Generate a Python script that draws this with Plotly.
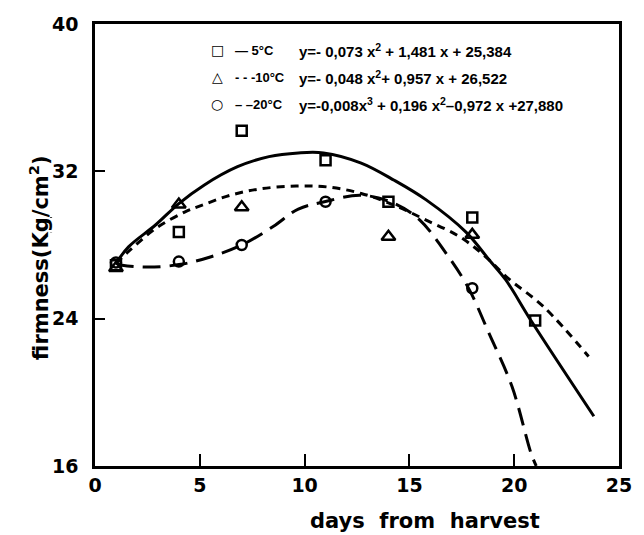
import plotly.graph_objects as go

days = [1, 4, 7, 11, 14, 18, 21]
firm_5c = [26.9, 28.7, 34.2, 32.6, 30.35, 29.5, 23.9]

days_10c = [1, 4, 7, 14, 18]
firm_10c = [26.75, 30.2, 30.05, 28.45, 28.55]

days_20c = [1, 4, 7, 11, 18]
firm_20c = [27.05, 27.1, 28.0, 30.35, 25.65]

# ---- fitted curves as drawn ----
fit5_x = [1, 1.6, 2.9, 4, 5.2, 6.8, 8.3, 9.7, 10.9, 12.7, 14.3, 15.8, 17.7, 18.8, 19.6, 20.8, 23.8]
fit5_y = [27.0, 27.9, 29.1, 30.25, 31.25, 32.25, 32.8, 33.0, 33.0, 32.45, 31.5, 30.45, 28.7, 27.2, 26.1, 23.9, 18.7]

fit10_x = [1, 1.6, 2.9, 4.3, 5.2, 6.45, 7.9, 9.6, 11.1, 12.7, 14.3, 15.8, 17.4, 18.6, 19.7, 21.4, 23.55]
fit10_y = [27.0, 27.65, 28.9, 29.8, 30.2, 30.7, 31.05, 31.2, 31.15, 30.8, 30.15, 29.35, 28.45, 27.4, 26.2, 24.65, 21.95]

fit20_x = [1, 1.3, 2.55, 4.1, 5.5, 7.0, 8.5, 9.7, 10.95, 12.7, 14.3, 15.5, 16.75, 17.8, 18.8, 19.9, 20.8, 21.05]
fit20_y = [27.0, 26.9, 26.8, 26.95, 27.35, 28.0, 29.0, 29.95, 30.35, 30.7, 30.25, 29.35, 27.55, 25.7, 23.2, 20.3, 16.7, 16.0]

x_ticks = [0, 5, 10, 15, 20, 25]
y_ticks = [16, 24, 32, 40]

legend_labels = ["\u2014 5°C", "- - -10°C", "\u2013 \u201320°C"]
legend_symbols = ["\u25a1", "\u25b3", "\u25cb"]
equations = [
    "y=- 0,073 x<sup>2</sup> + 1,481 x + 25,384",
    "y=- 0,048 x<sup>2</sup>+ 0,957 x + 26,522",
    "y=-0,008x<sup>3</sup> + 0,196 x<sup>2</sup>\u20130,972 x +27,880",
]

FONT = "DejaVu Sans"
BLACK = "black"

fig = go.Figure()

fig.add_trace(go.Scatter(x=fit5_x, y=fit5_y, mode="lines", line=dict(color=BLACK, width=3, shape="spline"), showlegend=False))
fig.add_trace(go.Scatter(x=fit10_x, y=fit10_y, mode="lines", line=dict(color=BLACK, width=3, dash="8px,6px", shape="spline"), showlegend=False))
fig.add_trace(go.Scatter(x=fit20_x, y=fit20_y, mode="lines", line=dict(color=BLACK, width=3, dash="18px,9px", shape="spline"), showlegend=False))

mk = dict(color=BLACK, line=dict(color=BLACK, width=2.5))
fig.add_trace(go.Scatter(x=days, y=firm_5c, mode="markers", marker=dict(symbol="square-open", size=10, **mk), showlegend=False))
fig.add_trace(go.Scatter(x=days_10c, y=firm_10c, mode="markers", marker=dict(symbol="triangle-up-open", size=12, **mk), showlegend=False))
fig.add_trace(go.Scatter(x=days_20c, y=firm_20c, mode="markers", marker=dict(symbol="circle-open", size=10, **mk), showlegend=False))

L, R, T, B = 95, 14, 24, 69
W, H = 644, 535
pw, ph = W - L - R, H - T - B

def px(xp):
    return (xp - L) / pw

def py(yp):
    return (H - B - yp) / ph

ann = []
rows_y = [50, 77, 104]
for sym, lab, eq, ry in zip(legend_symbols, legend_labels, equations, rows_y):
    ann.append(dict(x=px(220), y=py(ry), xref="paper", yref="paper", text="<b>" + sym + "</b>",
                    showarrow=False, xanchor="center", yanchor="middle",
                    font=dict(family=FONT, size=14, color=BLACK)))
    ann.append(dict(x=px(236), y=py(ry), xref="paper", yref="paper", text="<b>" + lab + "</b>",
                    showarrow=False, xanchor="left", yanchor="middle",
                    font=dict(family="Liberation Sans", size=13, color=BLACK)))
    ann.append(dict(x=px(301), y=py(ry), xref="paper", yref="paper", text="<b>" + eq + "</b>",
                    showarrow=False, xanchor="left", yanchor="middle",
                    font=dict(family="Liberation Sans", size=15, color=BLACK)))

ann.append(dict(x=px(38), y=py(258), xref="paper", yref="paper", text="<b>firmness(K<u>g</u>/cm<sup>2</sup>)</b>",
                showarrow=False, textangle=-90, xanchor="center", yanchor="middle",
                font=dict(family=FONT, size=21, color=BLACK)))
ann.append(dict(x=px(432), y=py(521), xref="paper", yref="paper", text="<b>days  from  harvest</b>",
                showarrow=False, xanchor="center", yanchor="middle",
                font=dict(family=FONT, size=21, color=BLACK)))

fig.update_layout(
    width=W, height=H,
    margin=dict(l=L, r=R, t=T, b=B, pad=0),
    paper_bgcolor="white", plot_bgcolor="white",
    showlegend=False,
    annotations=ann,
    xaxis=dict(range=[0, 25], tickvals=x_ticks, ticktext=[str(v) for v in x_ticks],
               ticks="inside", ticklen=12, tickwidth=2, tickcolor=BLACK,
               showline=True, linewidth=2.5, linecolor=BLACK, mirror=True,
               showgrid=False, zeroline=False, ticklabelstandoff=0,
               tickfont=dict(family=FONT, size=19, color=BLACK, weight="bold")),
    yaxis=dict(range=[16, 40], tickvals=y_ticks, ticktext=[str(v) for v in y_ticks],
               ticks="inside", ticklen=10, tickwidth=2, tickcolor=BLACK,
               showline=True, linewidth=2.5, linecolor=BLACK, mirror=True,
               showgrid=False, zeroline=False, ticklabelstandoff=10,
               tickfont=dict(family=FONT, size=19, color=BLACK, weight="bold")),
)

fig.write_html("out.html")
